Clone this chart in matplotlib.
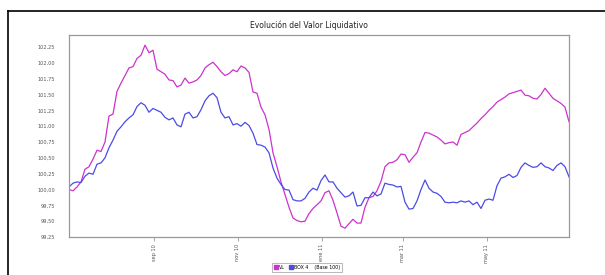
import matplotlib
matplotlib.use("Agg")
import matplotlib.pyplot as plt
import matplotlib.dates as mdates
from matplotlib.lines import Line2D
import pandas as pd

start_date = "2010-07-01"
end_date = "2011-06-30"

vl = [100.00, 99.98, 100.04, 100.12, 100.32, 100.36, 100.48, 100.62, 100.60, 100.75,
      101.16, 101.19, 101.55, 101.68, 101.80, 101.92, 101.94, 102.07, 102.12, 102.28,
      102.16, 102.20, 101.90, 101.86, 101.82, 101.73, 101.72, 101.62, 101.65, 101.76,
      101.68, 101.70, 101.73, 101.80, 101.92, 101.97, 102.01, 101.94, 101.86, 101.80,
      101.83, 101.89, 101.86, 101.95, 101.92, 101.85, 101.54, 101.52, 101.30, 101.18,
      100.95, 100.58, 100.36, 100.12, 99.92, 99.72, 99.55, 99.51, 99.49, 99.50,
      99.62, 99.70, 99.76, 99.82, 99.95, 99.98, 99.83, 99.63, 99.42, 99.39,
      99.46, 99.53, 99.47, 99.47, 99.72, 99.87, 99.89, 99.98, 100.13, 100.36,
      100.42, 100.43, 100.47, 100.56, 100.55, 100.43, 100.51, 100.58, 100.75, 100.90,
      100.89, 100.86, 100.83, 100.78, 100.72, 100.74, 100.75, 100.70, 100.87, 100.90,
      100.93, 100.99, 101.05, 101.12, 101.18, 101.25, 101.31, 101.38, 101.42, 101.46,
      101.51, 101.53, 101.55, 101.57, 101.49, 101.48, 101.44, 101.43, 101.50, 101.60,
      101.52, 101.44, 101.40, 101.36, 101.30, 101.07]

box4 = [100.04, 100.10, 100.12, 100.11, 100.21, 100.26, 100.24, 100.40, 100.42, 100.50,
        100.66, 100.78, 100.92, 100.99, 101.07, 101.13, 101.18, 101.31, 101.37, 101.33,
        101.22, 101.28, 101.25, 101.22, 101.14, 101.10, 101.13, 101.02, 100.99, 101.19,
        101.22, 101.13, 101.15, 101.26, 101.40, 101.48, 101.52, 101.45, 101.22, 101.13,
        101.15, 101.02, 101.04, 101.00, 101.06, 101.01, 100.89, 100.71, 100.70, 100.67,
        100.58, 100.34, 100.18, 100.08, 100.00, 99.99, 99.84, 99.82, 99.82, 99.86,
        99.96, 100.02, 99.99, 100.14, 100.23, 100.12, 100.12, 100.02, 99.95, 99.88,
        99.90, 99.96, 99.74, 99.75, 99.87, 99.87, 99.96, 99.90, 99.93, 100.10,
        100.08, 100.07, 100.04, 100.05, 99.80, 99.69, 99.70, 99.82, 100.00, 100.15,
        100.02, 99.96, 99.94, 99.89, 99.80, 99.79, 99.80, 99.79, 99.82, 99.80,
        99.82, 99.76, 99.80, 99.70, 99.83, 99.85, 99.83, 100.06, 100.18, 100.20,
        100.24, 100.19, 100.22, 100.35, 100.42, 100.38, 100.35, 100.36, 100.42, 100.36,
        100.34, 100.30, 100.38, 100.42, 100.36, 100.20]

series_labels = ["VL", "BOX 4    (Base 100)"]
y_ticks = [99.25, 99.50, 99.75, 100.00, 100.25, 100.50, 100.75, 101.00,
           101.25, 101.50, 101.75, 102.00, 102.25]
x_tick_dates = ["2010-09-01", "2010-11-01", "2011-01-01", "2011-03-01", "2011-05-01"]
x_tick_labels = ["sep 10", "nov 10", "ene 11", "mar 11", "may 11"]
title = "Evolución del Valor Liquidativo"

dates = pd.date_range(start_date, end_date, periods=len(vl))

c_vl = "#CC33CC"
c_box = "#4B4BE6"

fig = plt.figure(figsize=(6.05, 2.75), dpi=100)
ax = fig.add_axes([69/605, 1-237/275, 500/605, 202/275])

ax.plot(dates, vl, color=c_vl, lw=0.9)
ax.plot(dates, box4, color=c_box, lw=0.9)

ax.set_xlim(dates[0], dates[-1])
ax.set_ylim(99.25, 102.44)
ax.set_yticks(y_ticks)
ax.set_yticklabels([f"{v:.2f}".replace(".", ",") for v in y_ticks])
ax.set_xticks(pd.to_datetime(x_tick_dates))
ax.set_xticklabels(x_tick_labels, rotation=90)

ax.tick_params(axis="y", length=0, pad=10, labelsize=3.6, labelcolor="#555555")
ax.tick_params(axis="x", length=3, width=0.6, color="#999999", pad=2,
               labelsize=3.6, labelcolor="#555555")
for s in ax.spines.values():
    s.set_color("#999999")
    s.set_linewidth(0.9)

fig.text(309/605, 1-25/275, title, ha="center", va="center", fontsize=5.5, color="#222222")

handles = [Line2D([], [], marker="s", ls="none", color=c_vl, markersize=3.5),
           Line2D([], [], marker="s", ls="none", color=c_box, markersize=3.5)]
leg = fig.legend(handles, series_labels, loc="center", bbox_to_anchor=(307/605, 1-267.5/275),
                 ncol=2, fontsize=3.4, frameon=True, fancybox=False,
                 handlelength=0.8, handletextpad=0.3, columnspacing=0.8,
                 borderpad=0.4, edgecolor="#999999")
leg.get_frame().set_linewidth(0.6)

# outer frame lines
fig.add_artist(Line2D([8/605, 8/605], [0, 1-11/275], transform=fig.transFigure, color="black", lw=1.2))
fig.add_artist(Line2D([8/605, 1], [1-11/275, 1-11/275], transform=fig.transFigure, color="black", lw=1.2))

fig.savefig("out.png", dpi=100)
